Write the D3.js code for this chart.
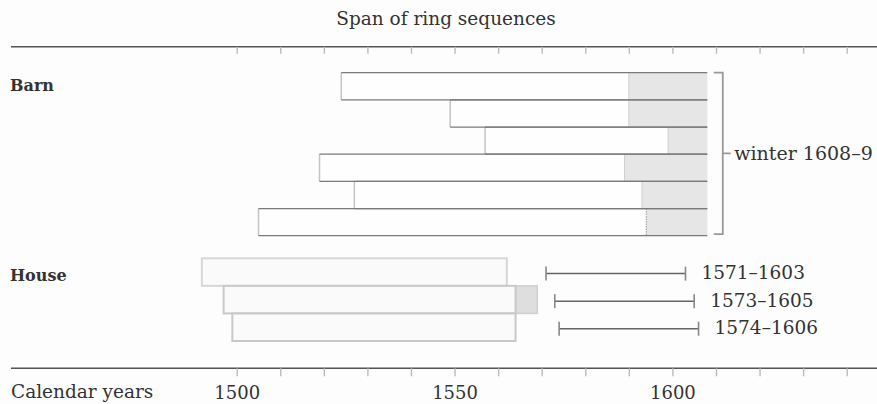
<!DOCTYPE html>
<html>
<head>
<meta charset="utf-8">
<script src="https://cdn.jsdelivr.net/npm/d3@7"></script>
<style>
  html, body { margin: 0; padding: 0; background: #fdfdfd; }
  svg { display: block; }
  text { font-family: "DejaVu Serif", serif; fill: #333; }
</style>
</head>
<body>
<svg id="chart" width="877" height="404"></svg>
<script>
// ---- data ----
const barnStart    = [1524, 1549, 1557, 1519, 1527, 1505];
const barnSapStart = [1590, 1590, 1599, 1589, 1593, 1594];
const barnEnd      = [1608, 1608, 1608, 1608, 1608, 1608];
const houseStart   = [1492, 1497, 1499];
const houseEnd     = [1562, 1564, 1564];
const houseSapEnd  = [null, 1569, null];
const fellFrom     = [1571, 1573, 1574];
const fellTo       = [1603, 1605, 1606];
const tickYears    = d3.range(1500, 1641, 10);
const labelYears   = [1500, 1550, 1600];
const barnNote     = "winter 1608–9";

// ---- scales ----
const svg = d3.select("#chart");
const x = d3.scaleLinear().domain([1500, 1640]).range([236.7, 846.7]);
const yBarn = d3.scaleBand().domain(d3.range(barnStart.length)).range([72.7, 235.7]);
const yHouse = d3.scaleBand().domain(d3.range(houseStart.length)).range([258.3, 341]);

// ---- title ----
svg.append("text").attr("x", 446).attr("y", 25).attr("text-anchor", "middle")
  .style("font-size", "18.5px").text("Span of ring sequences");

// ---- top axis ----
const topY = 46.7, botY = 368.3;
svg.append("line").attr("x1", 11).attr("x2", 877).attr("y1", topY).attr("y2", topY)
  .attr("stroke", "#555").attr("stroke-width", 1.6);
const topAxis = svg.append("g").attr("transform", `translate(0,${topY})`)
  .call(d3.axisBottom(x).tickValues(tickYears).tickSize(7).tickFormat(""));
topAxis.select(".domain").remove();
topAxis.selectAll(".tick line").attr("stroke", "#bbb").attr("stroke-width", 1.4);

// ---- bottom axis ----
svg.append("line").attr("x1", 11).attr("x2", 877).attr("y1", botY).attr("y2", botY)
  .attr("stroke", "#555").attr("stroke-width", 1.6);
const botAxis = svg.append("g").attr("transform", `translate(0,${botY})`)
  .call(d3.axisBottom(x).tickValues(tickYears).tickSize(8)
    .tickFormat(d => labelYears.includes(d) ? String(d) : ""));
botAxis.select(".domain").remove();
botAxis.selectAll(".tick line").attr("stroke", "#bbb").attr("stroke-width", 1.4);
botAxis.selectAll(".tick text").attr("y", 31).attr("dy", 0)
  .style("font-size", "18px").style("font-family", "DejaVu Serif, serif").attr("fill", "#333");
svg.append("text").attr("x", 11).attr("y", 398).style("font-size", "18.5px").text("Calendar years");

// ---- group labels ----
svg.append("text").attr("x", 10).attr("y", 91).style("font-size", "16px")
  .style("font-weight", "bold").text("Barn");
svg.append("text").attr("x", 10).attr("y", 281).style("font-size", "16px")
  .style("font-weight", "bold").text("House");

// ---- barn bars ----
const barn = svg.append("g");
barnStart.forEach((s, i) => {
  const y0 = yBarn(i), h = yBarn.bandwidth();
  barn.append("rect").attr("x", x(s)).attr("y", y0).attr("width", x(barnSapStart[i]) - x(s))
    .attr("height", h).attr("fill", "#fefefe");
  barn.append("rect").attr("x", x(barnSapStart[i])).attr("y", y0)
    .attr("width", x(barnEnd[i]) - x(barnSapStart[i])).attr("height", h).attr("fill", "#e6e6e6");
  barn.append("line").attr("x1", x(barnSapStart[i])).attr("x2", x(barnSapStart[i]))
    .attr("y1", y0).attr("y2", y0 + h).attr("stroke", i === 5 ? "#999" : "#d0d0d0")
    .attr("stroke-width", 1).attr("stroke-dasharray", i === 5 ? "1.5,1" : null);
  barn.append("line").attr("x1", x(s)).attr("x2", x(s)).attr("y1", y0).attr("y2", y0 + h)
    .attr("stroke", "#c4c4c4").attr("stroke-width", 1.5);
});
barnStart.forEach((s, i) => {
  const y0 = yBarn(i), h = yBarn.bandwidth();
  [y0, y0 + h].forEach(yy => {
    barn.append("line").attr("x1", x(s)).attr("x2", x(barnEnd[i])).attr("y1", yy).attr("y2", yy)
      .attr("stroke", "#7a7a7a").attr("stroke-width", 1.2);
  });
});

// ---- bracket ----
const bx = x(1608) + 15.5;
const by0 = yBarn(0), by1 = yBarn(barnStart.length - 1) + yBarn.bandwidth() - 1.5;
const bmid = (by0 + by1) / 2;
svg.append("path")
  .attr("d", `M${bx - 9},${by0} H${bx} V${by1} H${bx - 9} M${bx},${bmid} H${bx + 8}`)
  .attr("fill", "none").attr("stroke", "#999").attr("stroke-width", 1.8);
svg.append("text").attr("x", bx + 11.5).attr("y", bmid + 6.5).style("font-size", "19px")
  .text(barnNote);

// ---- house bars ----
const house = svg.append("g");
houseStart.forEach((s, i) => {
  const y0 = yHouse(i), h = yHouse.bandwidth();
  if (houseSapEnd[i] !== null) {
    house.append("rect").attr("x", x(houseEnd[i])).attr("y", y0)
      .attr("width", x(houseSapEnd[i]) - x(houseEnd[i])).attr("height", h)
      .attr("fill", "#dedede").attr("stroke", "#cfcfcf").attr("stroke-width", 1.5);
  }
  house.append("rect").attr("x", x(s)).attr("y", y0).attr("width", x(houseEnd[i]) - x(s))
    .attr("height", h).attr("fill", "#fafafa").attr("fill-opacity", 0.9)
    .attr("stroke", i === 0 ? "#d6d6d6" : "#c8c8c8").attr("stroke-width", 2);
});

// ---- felling ranges ----
const fell = svg.append("g");
fellFrom.forEach((f, i) => {
  const yy = yHouse(i) + yHouse.bandwidth() / 2 + 1.5;
  fell.append("line").attr("x1", x(f)).attr("x2", x(fellTo[i])).attr("y1", yy).attr("y2", yy)
    .attr("stroke", "#666").attr("stroke-width", 1.5);
  [f, fellTo[i]].forEach(v => {
    fell.append("line").attr("x1", x(v)).attr("x2", x(v)).attr("y1", yy - 7).attr("y2", yy + 7)
      .attr("stroke", "#888").attr("stroke-width", 1.6);
  });
  fell.append("text").attr("x", x(fellTo[i]) + 16).attr("y", yy + 5.5).style("font-size", "18.5px")
    .text(`${f}–${fellTo[i]}`);
});
</script>
</body>
</html>
